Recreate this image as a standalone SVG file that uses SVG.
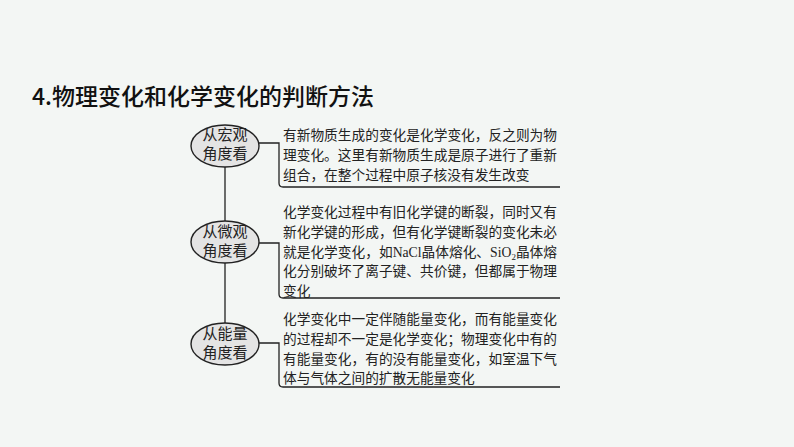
<svg xmlns="http://www.w3.org/2000/svg" width="794" height="447" viewBox="0 0 794 447">
<style>
.title{font-family:"Noto Sans CJK SC","Liberation Sans",sans-serif;font-size:23px;font-weight:500;fill:#111}
.node ellipse{fill:#e4e4e4;stroke:#222;stroke-width:1.4}
.node text{font-family:"Noto Sans CJK SC",sans-serif;font-size:15px;fill:#222;text-anchor:middle}
.desc{font-family:"Liberation Serif","Noto Sans CJK SC",serif;font-size:13.7px;fill:#222}
.conn path{fill:none;stroke:#222;stroke-width:1.3}
</style>
<rect width="794" height="447" fill="#f3f6f4"/>
<text class="title" x="32" y="105">4.物理变化和化学变化的判断方法</text>
<g class="conn" id="connectors">
<path d="M225 167V221M225 263V323"/>
<path d="M259 143H279V183Q279 187 283 187H560"/>
<path d="M259 243H279V294Q279 298 283 298H560"/>
<path d="M259 343H279V383Q279 387 283 387H560"/>
</g>
<g class="node" id="n1">
<ellipse cx="225" cy="146" rx="34" ry="21"/>
<text x="225" y="140">从宏观</text>
<text x="225" y="159">角度看</text>
</g>
<g class="node" id="n2">
<ellipse cx="225" cy="242" rx="34" ry="21"/>
<text x="225" y="237">从微观</text>
<text x="225" y="256">角度看</text>
</g>
<g class="node" id="n3">
<ellipse cx="225" cy="344" rx="34" ry="21"/>
<text x="225" y="339">从能量</text>
<text x="225" y="358">角度看</text>
</g>
<g id="t1" class="desc">
<text x="283" y="140" textLength="274">有新物质生成的变化是化学变化，反之则为物</text>
<text x="283" y="160" textLength="274">理变化。这里有新物质生成是原子进行了重新</text>
<text x="283" y="180">组合，在整个过程中原子核没有发生改变</text>
</g>
<g id="t2" class="desc">
<text x="283" y="217" textLength="274">化学变化过程中有旧化学键的断裂，同时又有</text>
<text x="283" y="237" textLength="274">新化学键的形成，但有化学键断裂的变化未必</text>
<text x="283" y="257" textLength="274">就是化学变化，如NaCl晶体熔化、SiO<tspan font-size="9" dy="3">2</tspan><tspan dy="-3">晶体熔</tspan></text>
<text x="283" y="276" textLength="274">化分别破坏了离子键、共价键，但都属于物理</text>
<text x="283" y="296">变化</text>
</g>
<g id="t3" class="desc">
<text x="283" y="324" textLength="274">化学变化中一定伴随能量变化，而有能量变化</text>
<text x="283" y="344" textLength="274">的过程却不一定是化学变化；物理变化中有的</text>
<text x="283" y="364" textLength="274">有能量变化，有的没有能量变化，如室温下气</text>
<text x="283" y="383">体与气体之间的扩散无能量变化</text>
</g>
</svg>
